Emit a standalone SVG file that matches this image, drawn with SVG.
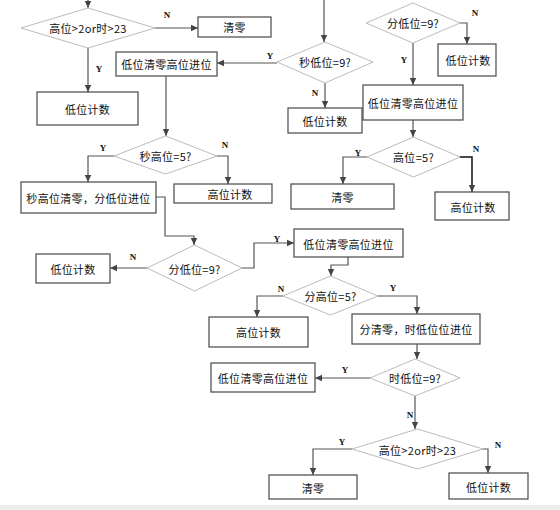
<svg xmlns="http://www.w3.org/2000/svg" width="560" height="510" viewBox="0 0 560 510">
<defs>
<marker id="ah" markerUnits="userSpaceOnUse" markerWidth="8" markerHeight="8" refX="7" refY="4" orient="auto">
<path d="M0,0.8 L7,4 L0,7.2 Z" fill="#444"/>
</marker>
<style>
.box{fill:#fff;stroke:#555;stroke-width:1.3}
.dia{fill:#fff;stroke:#bbb;stroke-width:1}
.t{font-family:"Noto Sans CJK SC","Noto Sans",sans-serif;font-size:11px;fill:#111;text-anchor:middle;dominant-baseline:central;letter-spacing:0.3px}
.yn{font-family:"Liberation Serif",serif;font-size:9px;font-weight:bold;fill:#111;text-anchor:middle}
.c{fill:none;stroke:#555;stroke-width:1.2}
.a{marker-end:url(#ah)}
</style>
</defs>
<rect width="560" height="510" fill="#fff"/>
<rect x="0" y="505" width="560" height="5" fill="#eeeeee"/>

<g id="connectors">
<path class="c a" d="M88,0 V8"/>
<path class="c a" d="M155,28 H198"/>
<path class="c a" d="M88,48 V92"/>
<path class="c a" d="M324,0 V42"/>
<path class="c a" d="M277,63 H217"/>
<path class="c a" d="M325,83 V108"/>
<path class="c a" d="M460,23 H467 V44"/>
<path class="c a" d="M413,43 V85"/>
<path class="c a" d="M166,76 V136"/>
<path class="c a" d="M413,120 V137"/>
<path class="c a" d="M367,157 H343 V184"/>
<path class="c a" d="M460,157 H472 V192" style="stroke:#111;stroke-width:1.5"/>
<path class="c a" d="M114,156 H88 V182"/>
<path class="c a" d="M217,156 H228 V184"/>
<path class="c a" d="M156,197 H165 V236 H194 V245"/>
<path class="c a" d="M147,268 H110"/>
<path class="c a" d="M242,268 H254 V243 H294"/>
<path class="c a" d="M348,257 V265 H331 V276"/>
<path class="c a" d="M283,296 H257 V317"/>
<path class="c a" d="M378,296 H417 V314"/>
<path class="c a" d="M417,344 V359"/>
<path class="c a" d="M370,378 H315"/>
<path class="c a" d="M415,396 V429"/>
<path class="c a" d="M352,449 H313 V475"/>
<path class="c a" d="M483,449 H488 V473"/>
<text class="yn" x="167" y="18">N</text>
<text class="yn" x="99" y="72">Y</text>
<text class="yn" x="270" y="59">Y</text>
<text class="yn" x="315" y="96">N</text>
<text class="yn" x="475" y="16">N</text>
<text class="yn" x="404" y="63">Y</text>
<text class="yn" x="358" y="156">Y</text>
<text class="yn" x="476" y="152">N</text>
<text class="yn" x="103" y="151">Y</text>
<text class="yn" x="225" y="148">N</text>
<text class="yn" x="133" y="260">N</text>
<text class="yn" x="277" y="242">Y</text>
<text class="yn" x="281" y="292">N</text>
<text class="yn" x="393" y="291">Y</text>
<text class="yn" x="345" y="373">Y</text>
<text class="yn" x="410" y="418">N</text>
<text class="yn" x="342" y="445">Y</text>
<text class="yn" x="498" y="448">N</text>
</g>

<g id="d1"><polygon class="dia" points="21,28 88,8 155,28 88,48"/><text class="t" x="88" y="28">高位&gt;2or时&gt;23</text></g>
<g id="b1"><rect class="box" x="198" y="17" width="73" height="20"/><text class="t" x="234.5" y="27">清零</text></g>
<g id="b2"><rect class="box" x="37" y="92" width="101" height="33"/><text class="t" x="87.5" y="109">低位计数</text></g>
<g id="b3"><rect class="box" x="116" y="52" width="101" height="24"/><text class="t" x="166.5" y="64">低位清零高位进位</text></g>
<g id="d2"><polygon class="dia" points="277,62 325,42 373,62 325,83"/><text class="t" x="325" y="62">秒低位=9?</text></g>
<g id="b4"><rect class="box" x="288" y="108" width="74" height="25"/><text class="t" x="325" y="121">低位计数</text></g>
<g id="d3"><polygon class="dia" points="366,23 413,3 460,23 413,43"/><text class="t" x="413" y="23">分低位=9?</text></g>
<g id="b5"><rect class="box" x="438" y="44" width="58" height="32"/><text class="t" x="468" y="60">低位计数</text></g>
<g id="b6"><rect class="box" x="363" y="85" width="100" height="35"/><text class="t" x="413" y="102.5">低位清零高位进位</text></g>
<g id="d4"><polygon class="dia" points="114,156 165.5,136 217,156 165.5,174"/><text class="t" x="165.5" y="156">秒高位=5?</text></g>
<g id="b7"><rect class="box" x="21" y="182" width="135" height="31"/><text class="t" x="88.5" y="198">秒高位清零，分低位进位</text></g>
<g id="b8"><rect class="box" x="174" y="184" width="98" height="19"/><text class="t" x="230" y="193.5">高位计数</text></g>
<g id="d5"><polygon class="dia" points="367,157 413.5,137 460,157 413.5,177"/><text class="t" x="413.5" y="157">高位=5?</text></g>
<g id="b9"><rect class="box" x="291" y="184" width="103" height="25"/><text class="t" x="342.5" y="197">清零</text></g>
<g id="b10"><rect class="box" x="435" y="192" width="74" height="28"/><text class="t" x="473" y="207">高位计数</text></g>
<g id="d6"><polygon class="dia" points="147,268 194.5,245 242,268 194.5,291"/><text class="t" x="194.5" y="269">分低位=9?</text></g>
<g id="b11"><rect class="box" x="36" y="254" width="74" height="29"/><text class="t" x="73" y="269">低位计数</text></g>
<g id="b12"><rect class="box" x="294" y="229" width="109" height="28"/><text class="t" x="348.5" y="243.5">低位清零高位进位</text></g>
<g id="d7"><polygon class="dia" points="283,296 330.5,276 378,296 330.5,315"/><text class="t" x="330.5" y="296">分高位=5?</text></g>
<g id="b13"><rect class="box" x="209" y="317" width="99" height="30"/><text class="t" x="258.5" y="332">高位计数</text></g>
<g id="b14"><rect class="box" x="352" y="314" width="128" height="30"/><text class="t" x="416" y="329">分清零，时低位位进位</text></g>
<g id="d8"><polygon class="dia" points="370,378 415,359 460,378 415,396"/><text class="t" x="415" y="378">时低位=9?</text></g>
<g id="b15"><rect class="box" x="211" y="363" width="104" height="29"/><text class="t" x="263" y="378">低位清零高位进位</text></g>
<g id="d9"><polygon class="dia" points="352,449 417.5,429 483,449 417.5,469"/><text class="t" x="417.5" y="450">高位&gt;2or时&gt;23</text></g>
<g id="b16"><rect class="box" x="269" y="475" width="88" height="24"/><text class="t" x="313" y="488">清零</text></g>
<g id="b17"><rect class="box" x="449" y="473" width="79" height="26"/><text class="t" x="488.5" y="487">低位计数</text></g>
</svg>
